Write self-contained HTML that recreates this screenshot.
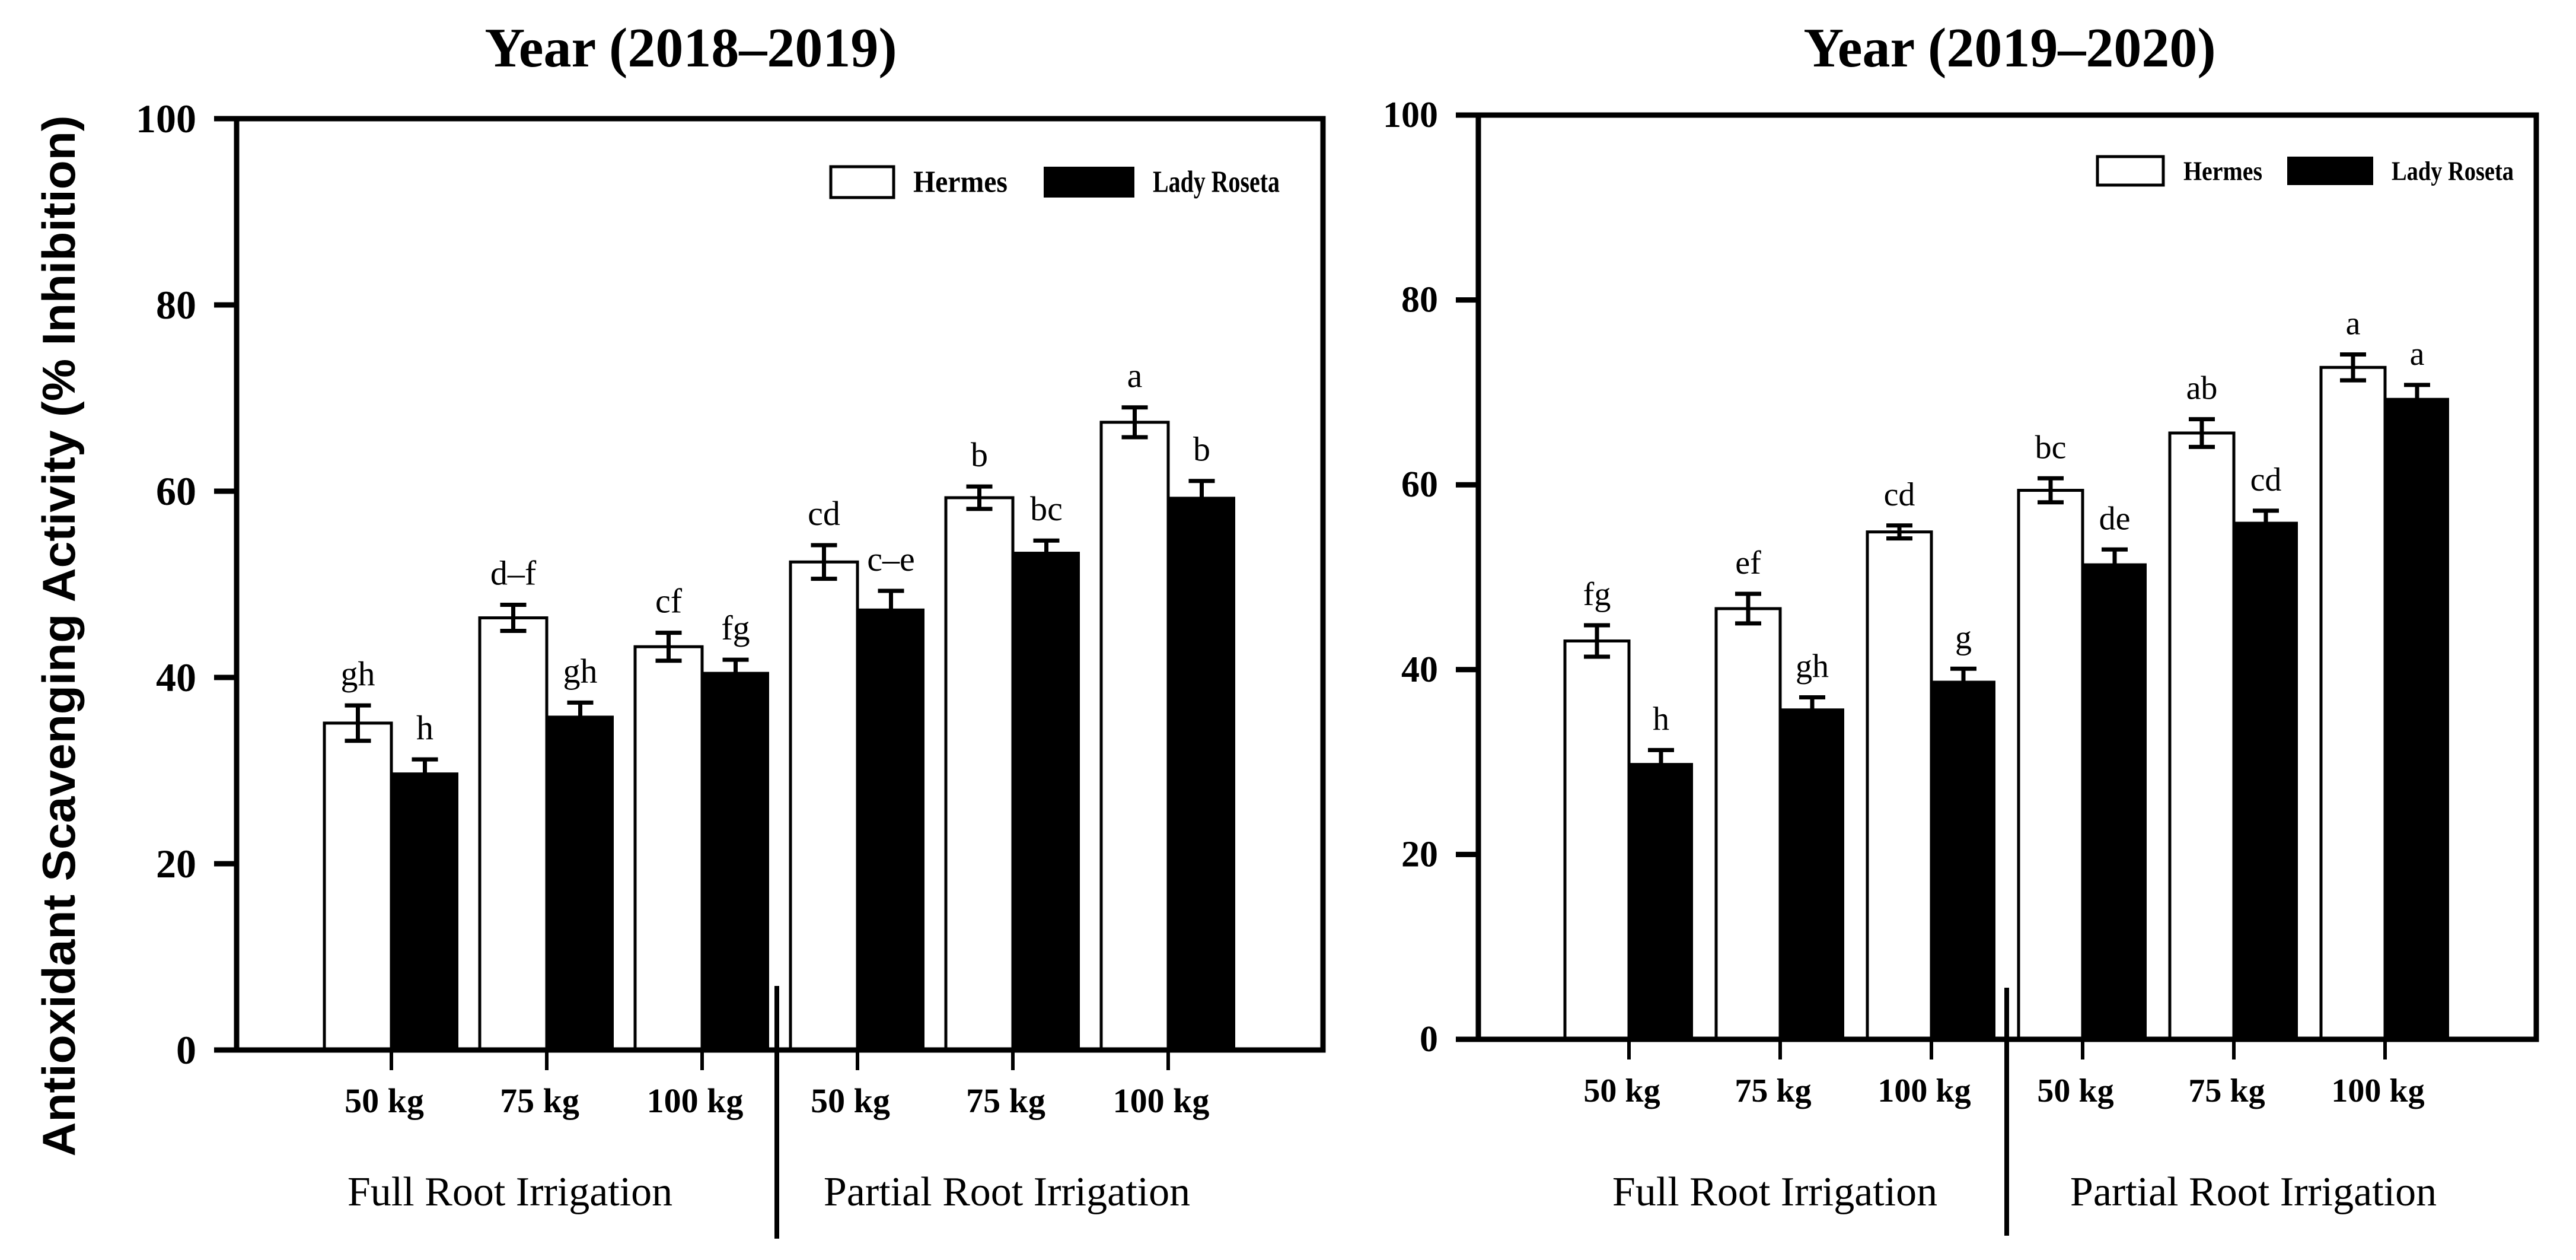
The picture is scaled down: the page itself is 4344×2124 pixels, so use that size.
<!DOCTYPE html>
<html><head><meta charset="utf-8">
<style>html,body{margin:0;padding:0;background:#fff}svg{display:block}</style>
</head><body>
<svg id="fig" xmlns="http://www.w3.org/2000/svg" width="4344" height="2124" viewBox="0 0 4344 2124">
<text x="99" y="1072" transform="rotate(-90 99 1072)" text-anchor="middle" dominant-baseline="central" font-family="Liberation Sans, sans-serif" font-weight="bold" font-size="78" textLength="1755" lengthAdjust="spacingAndGlyphs">Antioxidant Scavenging Activity (% Inhibition)</text>
</svg>
<script>
const categories = ["50 kg","75 kg","100 kg","50 kg","75 kg","100 kg"];
const groupNames = ["Full Root Irrigation","Partial Root Irrigation"];
const seriesNames = ["Hermes","Lady Roseta"];
const yTicks = [0,20,40,60,80,100];
const hermes1 = [35.1,46.4,43.3,52.4,59.3,67.4];
const lady1 = [29.8,35.9,40.6,47.4,53.5,59.4];
const hermesErr1 = [1.9,1.4,1.5,1.8,1.2,1.6];
const ladyErr1 = [1.4,1.4,1.3,1.9,1.2,1.7];
const hermesLet1 = ["gh","d–f","cf","cd","b","a"];
const ladyLet1 = ["h","gh","fg","c–e","bc","b"];
const hermes2 = [43.1,46.6,54.9,59.4,65.6,72.7];
const lady2 = [29.9,35.8,38.8,51.5,56.0,69.4];
const hermesErr2 = [1.7,1.6,0.7,1.3,1.5,1.4];
const ladyErr2 = [1.4,1.2,1.3,1.5,1.2,1.4];
const hermesLet2 = ["fg","ef","cd","bc","ab","a"];
const ladyLet2 = ["h","gh","g","de","cd","a"];

const svg = document.getElementById('fig');
const NS = "http://www.w3.org/2000/svg";
function mk(tag, attrs, parent){const e=document.createElementNS(NS,tag);for(const k in attrs)e.setAttribute(k,attrs[k]);(parent||svg).appendChild(e);return e;}
const serif = "Liberation Serif, serif";

function panel(cfg){
  const g = mk('g',{});
  
  
  const yS = v => cfg.y0 - (cfg.y0 - cfg.y100) * v / 100;
  const xS = i => cfg.x0 + i * cfg.step;
  const t = mk('text',{x:cfg.titleX,y:112,'text-anchor':'middle','font-family':serif,'font-weight':'bold','font-size':94},g);
  t.textContent = cfg.title;
  
  
  for(let i=0;i<categories.length;i++){
    const xc = xS(i);
    const hb = mk('rect',{x:xc-cfg.bw,y:yS(cfg.h[i]),width:cfg.bw,height:cfg.y0-yS(cfg.h[i]),fill:'#fff',stroke:'#000','stroke-width':5},g);
    
    
    const lb = mk('rect',{x:xc,y:yS(cfg.l[i]),width:cfg.bw,height:cfg.y0-yS(cfg.l[i]),fill:'#000'},g);
    
    
    [[xc-cfg.bw/2,cfg.h[i],cfg.he[i],cfg.hl[i]],[xc+cfg.bw/2,cfg.l[i],cfg.le[i],cfg.ll[i]]].forEach(([cx,v,e,lab])=>{
      const eg = mk('g',{stroke:'#000','stroke-width':7},g);
      
      
      mk('line',{x1:cx,x2:cx,y1:yS(v+e),y2:yS(v-e)},eg);
      mk('line',{x1:cx-22,x2:cx+22,y1:yS(v+e),y2:yS(v+e)},eg);
      mk('line',{x1:cx-22,x2:cx+22,y1:yS(v-e),y2:yS(v-e)},eg);
      const lt = mk('text',{x:cx,y:yS(v+e)-34,'text-anchor':'middle','font-family':serif,'font-size':cfg.letFs},g);
      lt.textContent = lab;
      
      
    });
    mk('line',{x1:xc,x2:xc,y1:cfg.y0,y2:cfg.y0+34,stroke:'#000','stroke-width':6},g);
    const xl = mk('text',{x:xc-12,y:cfg.y0+105,'text-anchor':'middle','font-family':serif,'font-weight':'bold','font-size':cfg.tickFs},g);
    xl.textContent = categories[i];
    
    
  }
  mk('path',{d:`M${cfg.xL},${cfg.y100}H${cfg.xR}V${cfg.y0}H${cfg.xL}Z`,fill:'none',stroke:'#000','stroke-width':9},g);
  yTicks.forEach(v=>{
    mk('line',{x1:cfg.xL-38,x2:cfg.xL,y1:yS(v),y2:yS(v),stroke:'#000','stroke-width':9},g);
    const yl = mk('text',{x:cfg.xL-68,y:yS(v),'text-anchor':'end','dominant-baseline':'central','font-family':serif,'font-weight':'bold','font-size':cfg.yFs},g);
    yl.textContent = v;
    
    
  });
  mk('line',{x1:cfg.div,x2:cfg.div,y1:cfg.divTop,y2:cfg.divBot,stroke:'#000','stroke-width':8},g);
  cfg.groupX.forEach((gx,k)=>{
    const gt = mk('text',{x:gx,y:2032,'text-anchor':'middle','font-family':serif,'font-size':70},g);
    gt.textContent = groupNames[k];
    
    
  });
  const L = cfg.leg;
  const lg = mk('g',{},g);
  
  
  mk('rect',{x:L.wx,y:L.y,width:L.w,height:L.h,fill:'#fff',stroke:'#000','stroke-width':5},lg);
  const t1 = mk('text',{x:L.t1,y:L.y+L.h/2,'dominant-baseline':'central','font-family':serif,'font-weight':'bold','font-size':L.fs,textLength:L.l1,lengthAdjust:'spacingAndGlyphs'},lg);
  t1.textContent = seriesNames[0];
  mk('rect',{x:L.bx,y:L.y,width:L.bw,height:L.h,fill:'#000'},lg);
  const t2 = mk('text',{x:L.t2,y:L.y+L.h/2,'dominant-baseline':'central','font-family':serif,'font-weight':'bold','font-size':L.fs,textLength:L.l2,lengthAdjust:'spacingAndGlyphs'},lg);
  t2.textContent = seriesNames[1];
}

panel({name:'chart-2018-2019',title:'Year (2018–2019)',titleX:1165,xL:399,xR:2231,y100:200,y0:1770,
  x0:660,step:262,bw:113,h:hermes1,l:lady1,he:hermesErr1,le:ladyErr1,hl:hermesLet1,ll:ladyLet1,
  letFs:58,tickFs:58,yFs:68,div:1310,divTop:1662,divBot:2088,groupX:[860,1698],
  leg:{wx:1401,y:281,w:106,h:52,t1:1540,l1:159,bx:1760,bw:153,t2:1944,l2:214,fs:52}});
panel({name:'chart-2019-2020',title:'Year (2019–2020)',titleX:3389,xL:2493,xR:4277,y100:194,y0:1752,
  x0:2747,step:255,bw:108,h:hermes2,l:lady2,he:hermesErr2,le:ladyErr2,hl:hermesLet2,ll:ladyLet2,
  letFs:56,tickFs:56,yFs:62,div:3384,divTop:1665,divBot:2083,groupX:[2993,3800],
  leg:{wx:3537,y:264,w:111,h:48,t1:3682,l1:133,bx:3857,bw:145,t2:4033,l2:206,fs:46}});
</script>
</body></html>
